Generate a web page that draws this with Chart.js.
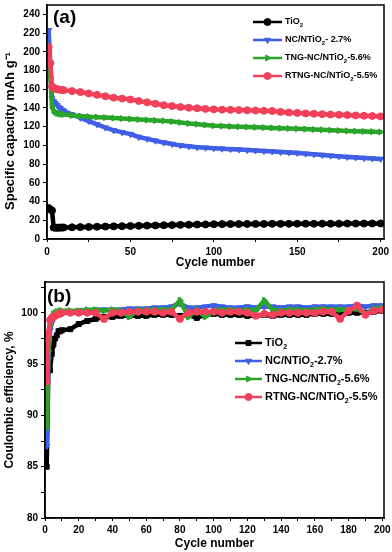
<!DOCTYPE html>
<html>
<head>
<meta charset="utf-8">
<script src="https://cdn.jsdelivr.net/npm/chart.js@4.4.1/dist/chart.umd.min.js"></script>
<style>
  body { margin: 0; background: #fff; }
  #wrap { position: relative; width: 392px; height: 552px; }
  canvas { position: absolute; left: 0; }
</style>
</head>
<body>
<div id="wrap">
  <canvas id="capChart" width="392" height="276" style="top:0"></canvas>
  <canvas id="ceChart" width="392" height="276" style="top:276px"></canvas>
</div>
<script>
// --- Data ---
const cycles = [1,2,3,4,5,6,7,8,9,10,15,20,25,30,35,40,45,50,55,60,65,70,75,80,85,90,95,100,
  105,110,115,120,125,130,135,140,145,150,155,160,165,170,175,180,185,190,195,200];

const seriesNames = ['TiO₂', 'NC/NTiO₂- 2.7%', 'TNG-NC/NTiO₂-5.6%', 'RTNG-NC/NTiO₂-5.5%'];
const seriesNamesB = ['TiO₂', 'NC/NTiO₂-2.7%', 'TNG-NC/NTiO₂-5.6%', 'RTNG-NC/NTiO₂-5.5%'];

// (a) specific capacity, mAh g-1
const capTiO2 = [33,31.5,30.5,12.2,12.1,12.1,12.1,12.2,12.2,12.3,12.5,12.7,12.9,13.1,13.3,13.5,13.7,13.9,
  14.1,14.3,14.5,14.7,14.9,15.1,15.3,15.5,15.6,15.8,15.9,16.0,16.0,16.1,16.1,16.1,16.2,16.2,16.2,16.3,
  16.3,16.3,16.4,16.4,16.4,16.5,16.5,16.5,16.6,16.6];
const capNC = [223,185,150,147,145,143,141,139.5,138,137,133,129.5,126,122.5,119,116,114,112,
  109,107,105,103,101.5,100,99,98,97.5,97,96.5,96,95.5,95,94.5,94,93.5,93,92.5,92,
  91.2,90.5,89.8,89,88.3,87.6,87,86.5,86,85.5];
const capTNG = [200,173,142,137,135.5,134.5,134,133.5,133.2,133,132,131.3,130.7,130.2,129.7,129.2,128.7,128.2,
  127.7,127.2,126.7,126.2,125.5,124.5,123.5,122.7,121.8,121,120.7,120.3,120,119.7,119.4,119,118.7,118.4,
  118.1,117.8,117.4,117,116.6,116.2,115.8,115.5,115.2,114.9,114.6,114.3];
const capRTNG = [205,188,163,161.5,160.5,160,159.7,159.5,159.3,159,158,157,155.5,154,152.5,151,150,149,
  147.5,146,144.5,143,142,141,140.3,139.7,139,138.5,138.2,138,137.7,137.5,137.3,137,136.8,135.8,
  135.2,134.7,134.2,133.8,133.4,133,132.7,132.4,132,131.7,131.4,131];

// (b) coulombic efficiency, %
const ceTiO2 = [85,94.4,94.4,96.0,96.9,97.5,97.8,98.2,98.2,98.3,98.4,98.9,99.2,99.4,99.6,99.6,99.7,99.7,
  99.7,99.7,99.8,99.8,99.8,99.7,99.8,99.5,99.8,99.9,99.8,99.8,99.8,99.7,99.7,99.8,99.7,99.8,
  99.8,99.8,99.8,99.9,99.9,99.9,99.9,100,100,100,100.1,100.2];
const ceNC = [87,95.5,98.3,99.0,99.4,99.6,99.8,99.9,100,100,100.1,100.2,100.2,100.3,100.3,100.3,100.3,100.4,
  100.4,100.4,100.5,100.5,100.6,100.9,100.5,100.5,100.6,100.7,100.6,100.5,100.5,100.6,100.5,100.6,100.6,100.5,
  100.6,100.6,100.5,100.6,100.6,100.6,100.6,100.6,100.7,100.6,100.7,100.7];
const ceTNG = [88.8,96.3,98.8,99.6,99.9,100,100.1,100.1,100.2,100.2,100.2,100.2,100.3,100.3,100.2,100.3,100.2,99.6,
  100.3,100.2,100.3,100.3,100.3,101.2,99.6,100.3,99.6,100.2,100.3,100.3,100.2,100.3,100.2,101.2,100.3,100.2,
  100.3,100.3,100.2,100.3,100.4,100.3,100.3,100.3,100.4,99.9,100.4,100.5];
const ceRTNG = [93.3,98,99.3,99.5,99.6,99.7,99.8,99.9,99.9,100,100,100,100,100,99.4,100,100,100.1,
  100.1,100.1,100.1,100,100.1,99.4,100,100.1,100.1,100.1,100,100.1,100.1,100,99.7,99.9,99.8,100,
  100,100,100,100,100.1,100.1,99.4,100.2,100.7,99.8,100.2,100.3];

const colors = ['#000000', '#3f5fe6', '#2aa52a', '#f2405a'];
const capStyles = ['circle', 'triangle', 'triangle', 'circle'];
const ceStyles = ['rect', 'triangle', 'triangle', 'circle'];
const rotations = [0, 180, 90, 0];

const FONT = "'Liberation Sans', Arial, sans-serif";

// --- Helpers ---
function toXY(vals) {
  return cycles.map((c, i) => ({ x: c, y: vals[i] }));
}

function makeDatasets(allVals, names, styles) {
  return allVals.map((vals, i) => ({
    label: names[i],
    data: toXY(vals),
    borderColor: colors[i],
    backgroundColor: colors[i],
    borderWidth: 4.5,
    pointStyle: styles[i],
    pointRotation: rotations[i],
    pointRadius: 3.5,
    pointBorderWidth: 1,
    order: 3 - i
  }));
}

// text with subscript "2" drawn lower and smaller
function drawSubText(ctx, text, x, y, size) {
  const parts = text.split('₂');
  let cx = x;
  parts.forEach((p, i) => {
    ctx.font = `bold ${size}px ${FONT}`;
    ctx.fillText(p, cx, y);
    cx += ctx.measureText(p).width;
    if (i < parts.length - 1) {
      ctx.font = `bold ${Math.round(size * 0.65)}px ${FONT}`;
      ctx.fillText('2', cx, y + size * 0.35);
      cx += ctx.measureText('2').width;
    }
  });
}

// frame, panel letter and inset legend
const framePlugin = {
  id: 'frame',
  afterDraw(chart, args, opts) {
    const { ctx, chartArea: a } = chart;
    ctx.save();
    ctx.strokeStyle = '#000';
    ctx.lineWidth = 1.5;
    ctx.strokeRect(a.left, a.top, a.right - a.left, a.bottom - a.top);

    ctx.fillStyle = '#000';
    ctx.textBaseline = 'top';
    ctx.font = `bold 19px ${FONT}`;
    ctx.fillText(opts.panel, opts.panelX, opts.panelY);

    const L = opts.legend;
    ctx.textBaseline = 'middle';
    chart.data.datasets.forEach((ds, i) => {
      const y = L.y + i * L.dy;
      ctx.strokeStyle = ds.borderColor;
      ctx.fillStyle = ds.borderColor;
      ctx.lineWidth = 2.5;
      ctx.beginPath();
      ctx.moveTo(L.x, y);
      ctx.lineTo(L.x + L.len, y);
      ctx.stroke();
      ctx.lineWidth = 1;
      Chart.helpers.drawPoint(ctx, {
        pointStyle: ds.pointStyle, rotation: ds.pointRotation, radius: L.r, borderWidth: 1
      }, L.x + L.len / 2, y);
      ctx.fillStyle = '#000';
      drawSubText(ctx, ds.label, L.x + L.len + 3, y, L.size);
    });
    ctx.restore();
  }
};

function axisTicks(step) {
  return function (scale) {
    const out = [];
    for (let v = scale.min; v <= scale.max + 1e-9; v += step) {
      out.push({ value: Math.round(v * 100) / 100 });
    }
    scale.ticks = out;
  };
}

function buildChart(id, cfg) {
  return new Chart(document.getElementById(id), {
    type: 'line',
    data: { datasets: cfg.datasets },
    plugins: [framePlugin],
    options: {
      responsive: false,
      animation: false,
      layout: { padding: { top: cfg.padTop, right: 8, left: 0, bottom: 0 } },
      plugins: {
        legend: { display: false },
        tooltip: { enabled: false },
        frame: cfg.frame
      },
      scales: {
        x: {
          type: 'linear',
          min: 0,
          max: cfg.xMax,
          afterBuildTicks: axisTicks(cfg.xMinor),
          afterFit: s => { s.height = cfg.xHeight; s.paddingLeft = 0; s.paddingRight = 0; },
          ticks: {
            autoSkip: false,
            maxRotation: 0,
            padding: cfg.xTickPad,
            color: '#000',
            font: { family: FONT, weight: 'bold', size: cfg.tickSize },
            callback: v => (v % cfg.xMajor === 0 ? v : '')
          },
          grid: { drawOnChartArea: false, drawTicks: true, tickLength: 3, color: '#000', tickWidth: 1 },
          border: { display: true, color: '#000', width: 1.5 },
          title: {
            display: true, text: 'Cycle number', color: '#000',
            font: { family: FONT, weight: 'bold', size: 12 },
            padding: { top: 0, bottom: cfg.xTitlePad }
          }
        },
        y: {
          min: cfg.yMin,
          max: cfg.yMax,
          afterBuildTicks: axisTicks(cfg.yMinor),
          afterFit: s => { s.width = cfg.yWidth; s.paddingTop = 0; s.paddingBottom = 0; },
          ticks: {
            autoSkip: false,
            padding: 3,
            color: '#000',
            font: { family: FONT, weight: 'bold', size: cfg.tickSize },
            callback: v => (Math.abs(v % cfg.yMajor) < 1e-6 ? v : '')
          },
          grid: { drawOnChartArea: false, drawTicks: true, tickLength: 4, color: '#000', tickWidth: 1 },
          border: { display: true, color: '#000', width: 1.5 },
          title: {
            display: true, text: cfg.yTitle, color: '#000',
            font: { family: FONT, weight: 'bold', size: cfg.yTitleSize },
            padding: { top: cfg.yTitlePad, bottom: 0 }
          }
        }
      }
    }
  });
}

// --- (a) capacity ---
buildChart('capChart', {
  datasets: makeDatasets([capTiO2, capNC, capTNG, capRTNG], seriesNames, capStyles),
  padTop: 2, xMax: 202, xMinor: 25, xMajor: 50, xHeight: 37, xTickPad: 4, xTitlePad: 6,
  yMin: 0, yMax: 250, yMinor: 20, yMajor: 20, yWidth: 47,
  tickSize: 10, yTitle: 'Specific capacity mAh g⁻¹\u00a0\u00a0\u00a0\u00a0\u00a0', yTitleSize: 13, yTitlePad: 3,
  frame: {
    panel: '(a)', panelX: 53, panelY: 8,
    legend: { x: 253, y: 22, dy: 18, len: 29, r: 3.5, size: 9 }
  }
});

// --- (b) coulombic efficiency ---
buildChart('ceChart', {
  datasets: makeDatasets([ceTiO2, ceNC, ceTNG, ceRTNG], seriesNamesB, ceStyles),
  padTop: 6, xMax: 201, xMinor: 10, xMajor: 20, xHeight: 34, xTickPad: 3, xTitlePad: 1,
  yMin: 80, yMax: 103, yMinor: 2.5, yMajor: 5, yWidth: 45,
  tickSize: 10, yTitle: 'Coulombic efficiency, %', yTitleSize: 12, yTitlePad: 2,
  frame: {
    panel: '(b)', panelX: 47, panelY: 11,
    legend: { x: 235, y: 67, dy: 18, len: 27, r: 3.5, size: 11 }
  }
});
</script>
</body>
</html>
